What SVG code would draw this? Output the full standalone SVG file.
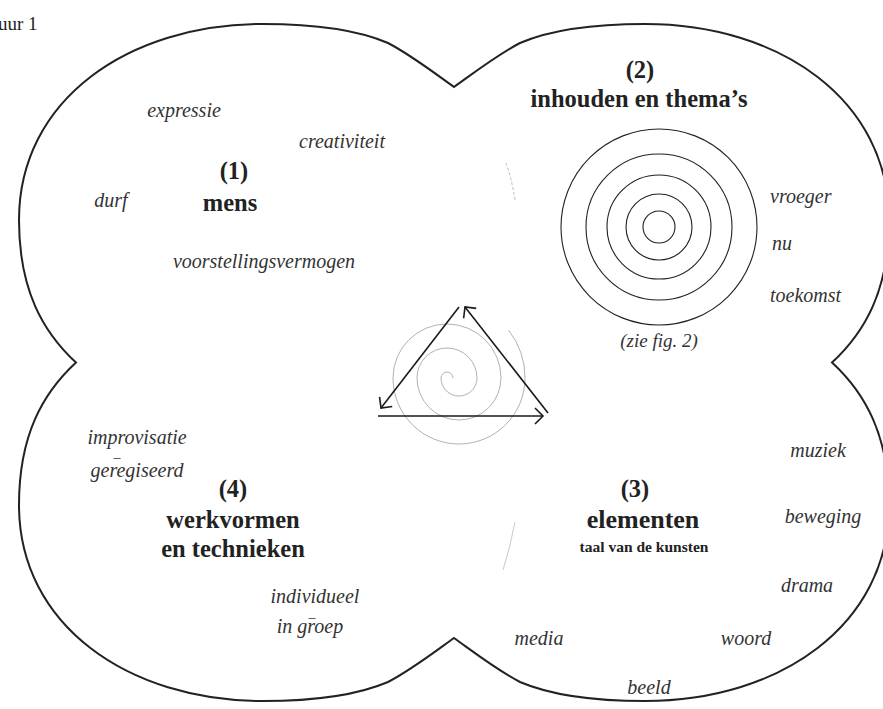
<svg xmlns="http://www.w3.org/2000/svg" width="883" height="709" viewBox="0 0 883 709">
<style>
text{font-family:"Liberation Serif","Times New Roman",serif;fill:#222}
.h{font-weight:bold;font-size:24.5px;text-anchor:middle}
.s{font-weight:bold;font-size:15.5px;text-anchor:middle}
.i{font-style:italic;font-size:20px;fill:#333}
.c{text-anchor:middle}
.d{font-size:14px}
.fig{font-size:19px}
.outline{fill:none;stroke:#222;stroke-width:2}
.ring{fill:none;stroke:#222;stroke-width:1.1}
.spiral{fill:none;stroke:#a8a8a8;stroke-width:0.9}
.arrow{fill:none;stroke:#1a1a1a;stroke-width:1.6}
</style>
<defs>
<marker id="chev" markerWidth="20" markerHeight="20" refX="10" refY="10" viewBox="0 0 20 20" orient="auto" markerUnits="userSpaceOnUse">
<path d="M2,2 L10,10 L2,18" fill="none" stroke="#1a1a1a" stroke-width="1.6"/>
</marker>
</defs>
<rect width="883" height="709" fill="#fff"/>
<text class="fig" x="-2" y="30">uur 1</text>
<g id="outline">
<path class="outline" d="M454,87 C475,72 497,55 520,43 C555,28 600,24 645,24 C780,24 889,100 889,220 C889,290 865,332 832,362.5 C865,393 889,435 889,505 C889,625 780,701 645,701 C600,701 555,697 520,682 C497,670 475,653 454,638 C433,653 411,670 388,682 C353,697 308,701 263,701 C128,701 19,625 19,505 C19,435 43,393 76,362.5 C43,332 19,290 19,220 C19,100 128,24 263,24 C308,24 353,28 388,43 C411,55 433,72 454,87 Z"/>
<path d="M506,163 Q512,180 515,200" fill="none" stroke="#bbb" stroke-width="1" stroke-dasharray="3,2"/>
<path d="M515,522 Q510,548 503,570" fill="none" stroke="#bbb" stroke-width="0.8"/>
</g>
<g id="mens">
<text class="h" x="234" y="179">(1)</text>
<text class="h" x="230" y="211">mens</text>
<text class="i c" x="184" y="117">expressie</text>
<text class="i c" x="342" y="148">creativiteit</text>
<text class="i c" x="111" y="207">durf</text>
<text class="i c" x="264" y="268">voorstellingsvermogen</text>
</g>
<g id="inhouden">
<text class="h" x="640" y="78">(2)</text>
<text class="h" x="639" y="107">inhouden en thema’s</text>
<circle class="ring" cx="659" cy="227" r="16"/>
<circle class="ring" cx="659" cy="227" r="33"/>
<circle class="ring" cx="659" cy="227" r="52"/>
<circle class="ring" cx="659" cy="227" r="73"/>
<circle class="ring" cx="659" cy="227" r="98"/>
<text class="i c" x="659" y="347" style="font-size:19px">(zie fig. 2)</text>
<text class="i" x="770" y="203">vroeger</text>
<text class="i" x="772" y="250">nu</text>
<text class="i" x="770" y="302">toekomst</text>
</g>
<g id="elementen">
<text class="h" x="635" y="497">(3)</text>
<text class="h" x="643" y="528" style="font-size:26px">elementen</text>
<text class="s" x="644" y="552">taal van de kunsten</text>
<text class="i c" x="818" y="457">muziek</text>
<text class="i c" x="823" y="523">beweging</text>
<text class="i c" x="807" y="592">drama</text>
<text class="i c" x="746" y="645">woord</text>
<text class="i c" x="539" y="645">media</text>
<text class="i c" x="649" y="694">beeld</text>
</g>
<g id="werkvormen">
<text class="h" x="233" y="497">(4)</text>
<text class="h" x="233" y="528">werkvormen</text>
<text class="h" x="233" y="557">en technieken</text>
<text class="i c" x="137" y="444">improvisatie</text>
<text class="i c d" x="117" y="462">–</text>
<text class="i c" x="137" y="477">geregiseerd</text>
<text class="i c" x="315" y="603">individueel</text>
<text class="i c d" x="312" y="622">–</text>
<text class="i c" x="310" y="633">in groep</text>
</g>
<g id="spiral">
<path class="spiral" d="M453,378 A6,6 0 0 0 441,378 A18,18 0 0 0 477,378 A30,30 0 0 0 417,378 A42,42 0 0 0 501,378 A54,54 0 0 0 393,378 A66,66 0 0 0 525,378 A78,78 0 0 0 508.6,330.2"/>
</g>
<g id="connectors">
<path class="arrow" d="M459,307 L381,408" marker-end="url(#chev)"/>
<path class="arrow" d="M548,413 L465,307" marker-end="url(#chev)"/>
<path class="arrow" d="M378,416 L543,416" marker-end="url(#chev)"/>
</g>
</svg>
